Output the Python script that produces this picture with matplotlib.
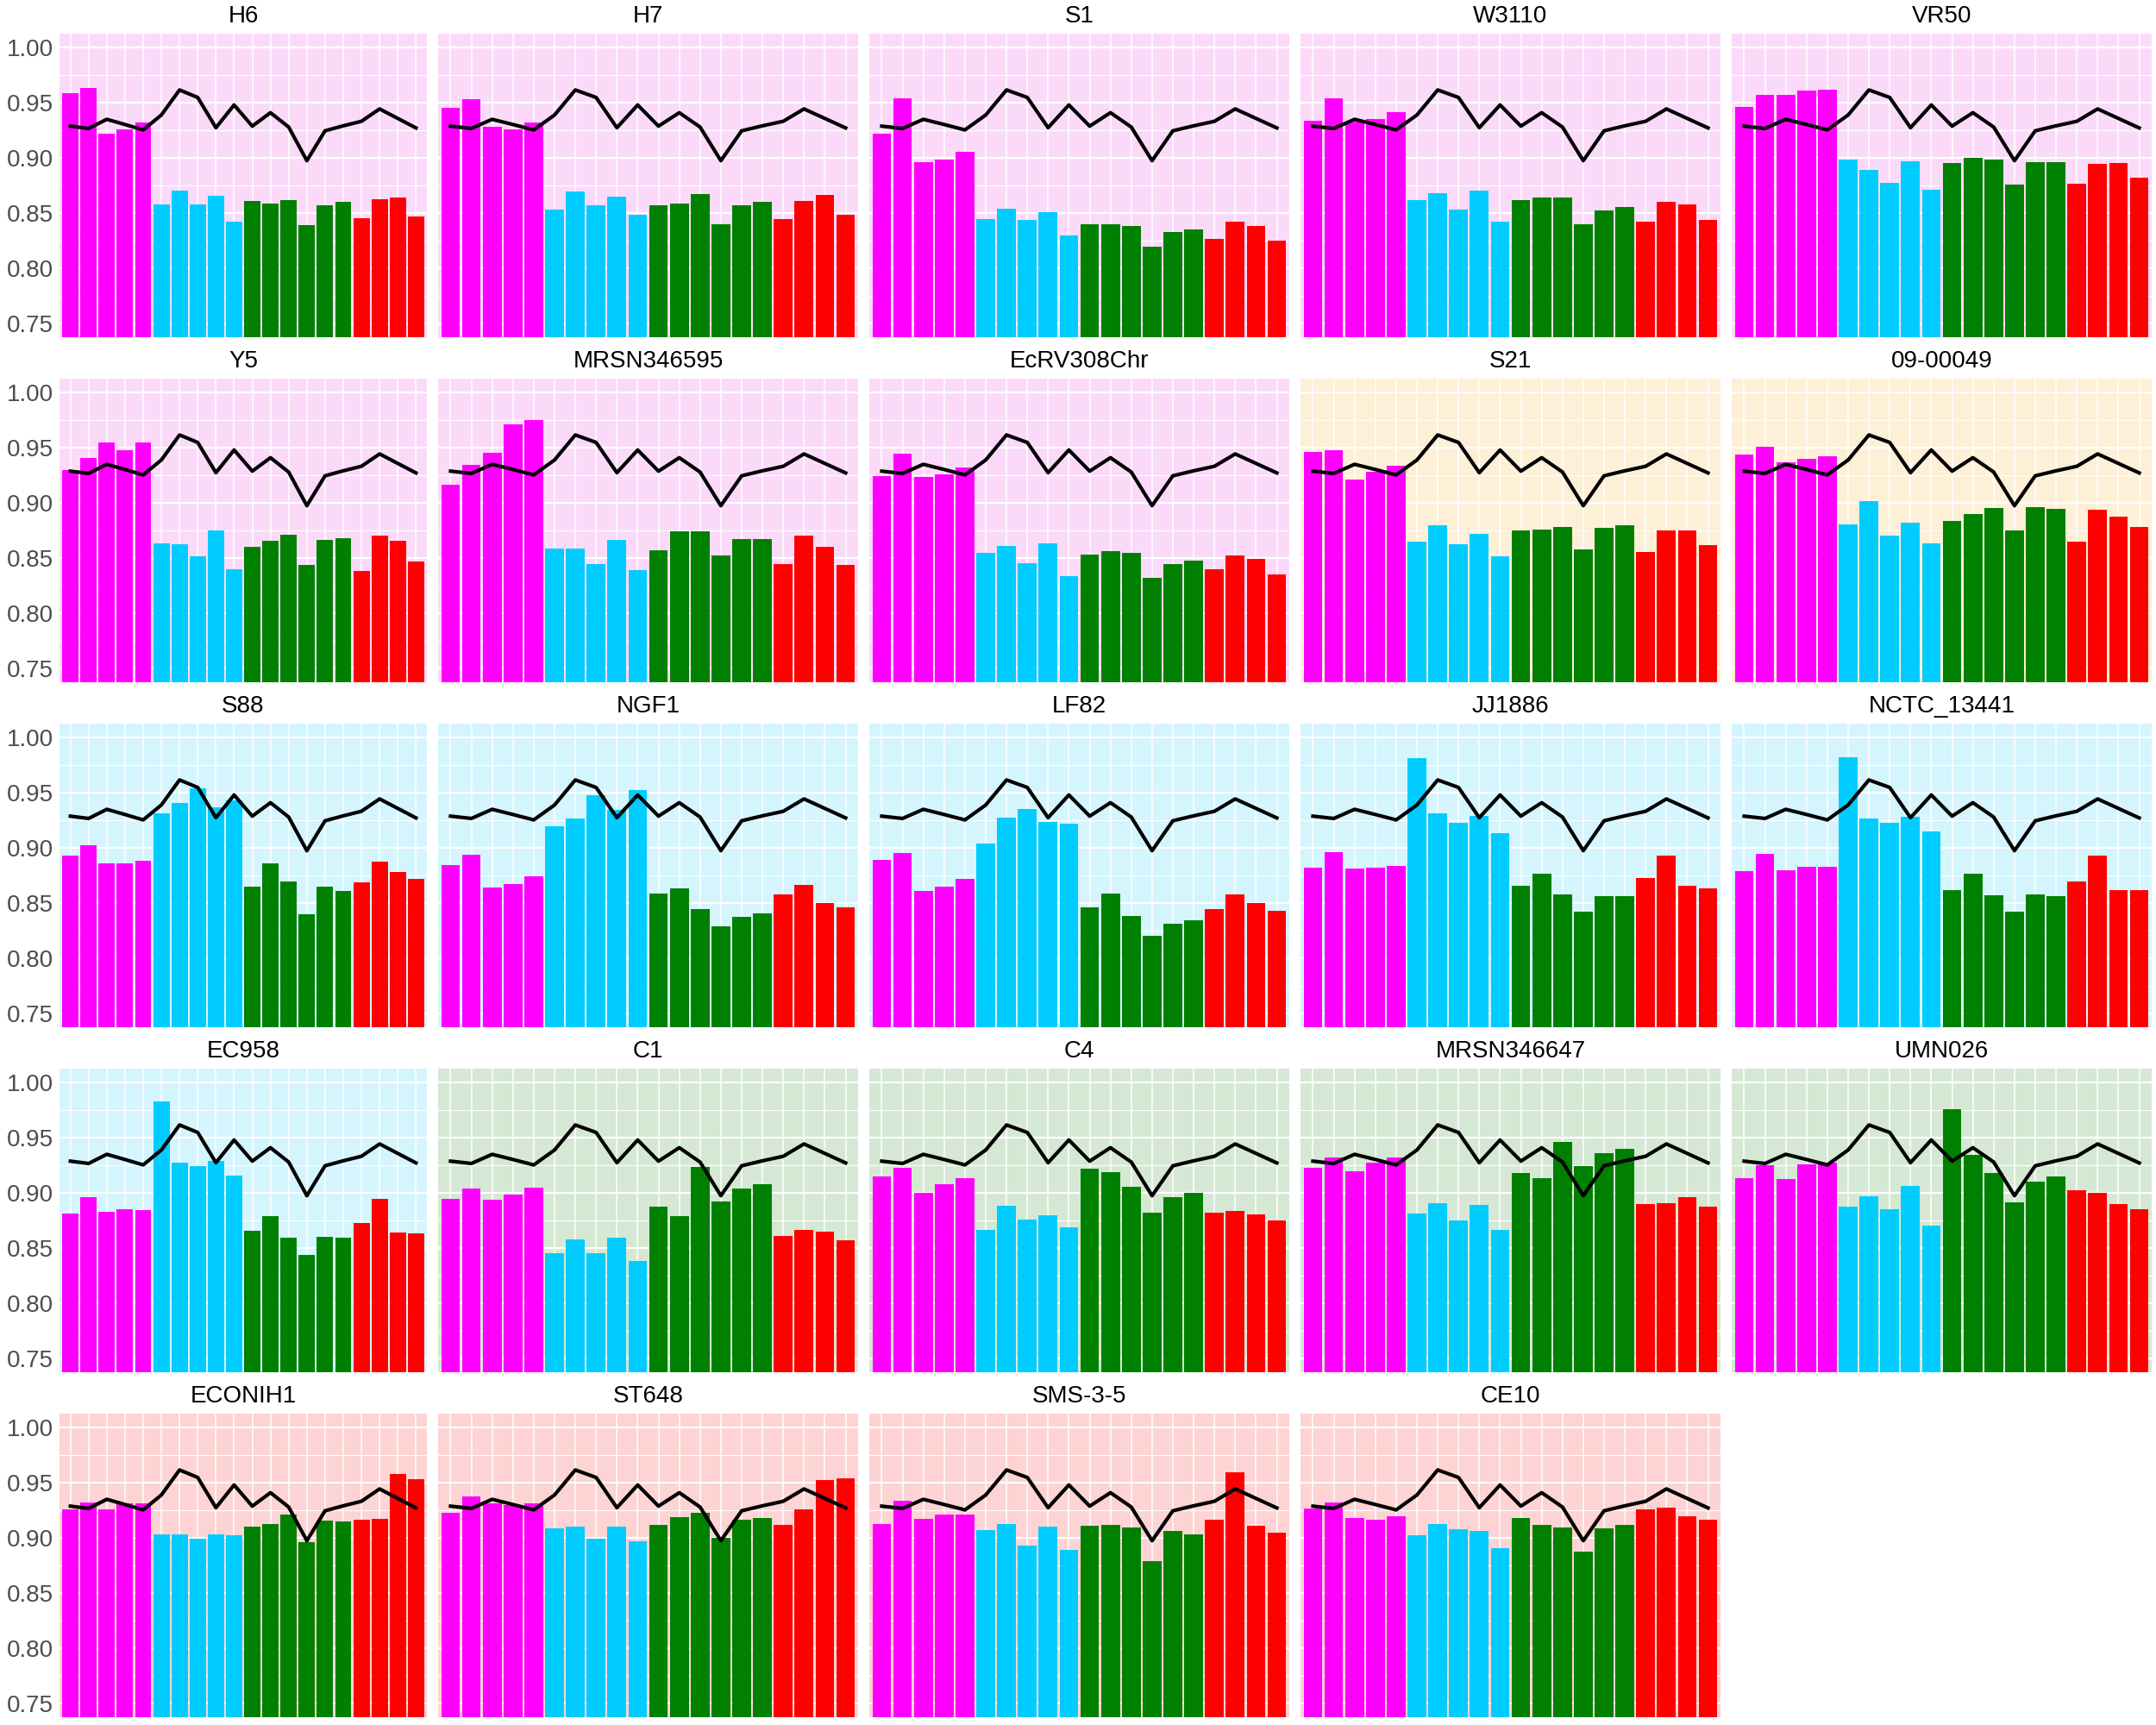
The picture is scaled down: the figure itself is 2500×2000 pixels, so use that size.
import matplotlib
matplotlib.use("Agg")
import matplotlib.pyplot as plt
from matplotlib.ticker import MultipleLocator, FormatStrFormatter

plt.rcParams['font.family'] = ['Liberation Sans', 'DejaVu Sans']

# bar groups: 5 magenta, 5 cyan, 6 green, 4 red
group_colours = ['#FF00FF', '#00CCFF', '#008000', '#FF0000']
group_sizes = [5, 5, 6, 4]

# black reference line (same in every panel)
reference_line = [0.9287, 0.9266, 0.9349, 0.9302, 0.9253, 0.9388, 0.9615, 0.9547, 0.9273, 0.9479,
                  0.9287, 0.9409, 0.9279, 0.8974, 0.9245, 0.9290, 0.9331, 0.9443, 0.9357, 0.9271]

vals_H6 = [0.9586, 0.9633, 0.9219, 0.9258, 0.9318, 0.8578, 0.8703, 0.8578, 0.8656, 0.8422,
           0.8609, 0.8586, 0.8617, 0.8391, 0.8570, 0.8602, 0.8453, 0.8625, 0.8641, 0.8469]
vals_H7 = [0.9453, 0.9531, 0.9281, 0.9258, 0.9318, 0.8531, 0.8695, 0.8570, 0.8648, 0.8484,
           0.8570, 0.8586, 0.8672, 0.8398, 0.8570, 0.8602, 0.8445, 0.8609, 0.8664, 0.8484]
vals_S1 = [0.9219, 0.9539, 0.8961, 0.8984, 0.9055, 0.8445, 0.8539, 0.8438, 0.8508, 0.8297,
           0.8398, 0.8398, 0.8383, 0.8195, 0.8328, 0.8352, 0.8266, 0.8422, 0.8383, 0.8250]
vals_W3110 = [0.9336, 0.9539, 0.9330, 0.9352, 0.9414, 0.8617, 0.8680, 0.8531, 0.8703, 0.8422,
              0.8617, 0.8641, 0.8641, 0.8398, 0.8523, 0.8555, 0.8422, 0.8602, 0.8578, 0.8438]
vals_VR50 = [0.9461, 0.9569, 0.9569, 0.9607, 0.9615, 0.8982, 0.8890, 0.8771, 0.8967, 0.8710,
             0.8951, 0.8997, 0.8982, 0.8756, 0.8959, 0.8959, 0.8763, 0.8944, 0.8951, 0.8821]
vals_Y5 = [0.9297, 0.9406, 0.9547, 0.9477, 0.9547, 0.8633, 0.8625, 0.8516, 0.8750, 0.8398,
           0.8602, 0.8656, 0.8711, 0.8438, 0.8664, 0.8680, 0.8383, 0.8703, 0.8656, 0.8469]
vals_MRSN346595 = [0.9164, 0.9344, 0.9453, 0.9711, 0.9750, 0.8586, 0.8586, 0.8445, 0.8664, 0.8391,
                   0.8570, 0.8742, 0.8742, 0.8523, 0.8672, 0.8672, 0.8445, 0.8703, 0.8602, 0.8438]
vals_EcRV308Chr = [0.9242, 0.9445, 0.9234, 0.9258, 0.9320, 0.8547, 0.8609, 0.8453, 0.8633, 0.8336,
                   0.8531, 0.8563, 0.8547, 0.8320, 0.8445, 0.8477, 0.8398, 0.8523, 0.8492, 0.8352]
vals_S21 = [0.9461, 0.9477, 0.9211, 0.9281, 0.9336, 0.8648, 0.8797, 0.8625, 0.8719, 0.8516,
            0.8750, 0.8758, 0.8781, 0.8578, 0.8773, 0.8797, 0.8555, 0.8750, 0.8750, 0.8617]
vals_09_00049 = [0.9438, 0.9507, 0.9369, 0.9400, 0.9423, 0.8806, 0.9016, 0.8702, 0.8821, 0.8633,
                 0.8836, 0.8898, 0.8955, 0.8752, 0.8963, 0.8948, 0.8648, 0.8940, 0.8875, 0.8783]
vals_S88 = [0.8930, 0.9023, 0.8859, 0.8859, 0.8883, 0.9313, 0.9406, 0.9539, 0.9367, 0.9430,
            0.8648, 0.8859, 0.8695, 0.8398, 0.8648, 0.8609, 0.8688, 0.8875, 0.8781, 0.8719]
vals_NGF1 = [0.8844, 0.8938, 0.8641, 0.8672, 0.8742, 0.9195, 0.9266, 0.9477, 0.9344, 0.9523,
             0.8586, 0.8633, 0.8445, 0.8289, 0.8375, 0.8406, 0.8578, 0.8664, 0.8500, 0.8461]
vals_LF82 = [0.8891, 0.8953, 0.8609, 0.8648, 0.8719, 0.9039, 0.9273, 0.9352, 0.9234, 0.9219,
             0.8461, 0.8586, 0.8383, 0.8203, 0.8313, 0.8344, 0.8445, 0.8578, 0.8500, 0.8430]
vals_JJ1886 = [0.8820, 0.8961, 0.8813, 0.8820, 0.8836, 0.9813, 0.9313, 0.9227, 0.9289, 0.9133,
               0.8656, 0.8766, 0.8578, 0.8422, 0.8563, 0.8563, 0.8727, 0.8930, 0.8656, 0.8633]
vals_NCTC_13441 = [0.8790, 0.8943, 0.8798, 0.8829, 0.8829, 0.9818, 0.9266, 0.9224, 0.9281, 0.9147,
                   0.8617, 0.8763, 0.8568, 0.8422, 0.8575, 0.8560, 0.8694, 0.8928, 0.8617, 0.8617]
vals_EC958 = [0.8813, 0.8961, 0.8828, 0.8852, 0.8844, 0.9828, 0.9273, 0.9242, 0.9289, 0.9156,
              0.8656, 0.8789, 0.8594, 0.8438, 0.8602, 0.8594, 0.8727, 0.8945, 0.8641, 0.8633]
vals_C1 = [0.8945, 0.9039, 0.8938, 0.8984, 0.9047, 0.8453, 0.8578, 0.8453, 0.8594, 0.8383,
           0.8875, 0.8789, 0.9234, 0.8922, 0.9039, 0.9078, 0.8609, 0.8664, 0.8648, 0.8570]
vals_C4 = [0.9148, 0.9227, 0.9000, 0.9078, 0.9133, 0.8664, 0.8883, 0.8758, 0.8797, 0.8688,
           0.9219, 0.9188, 0.9055, 0.8820, 0.8961, 0.9000, 0.8820, 0.8836, 0.8805, 0.8750]
vals_MRSN346647 = [0.9227, 0.9320, 0.9195, 0.9273, 0.9320, 0.8813, 0.8906, 0.8750, 0.8891, 0.8664,
                   0.9180, 0.9133, 0.9461, 0.9242, 0.9359, 0.9398, 0.8898, 0.8906, 0.8961, 0.8875]
vals_UMN026 = [0.9131, 0.9250, 0.9124, 0.9258, 0.9273, 0.8875, 0.8970, 0.8851, 0.9062, 0.8702,
               0.9757, 0.9342, 0.9181, 0.8913, 0.9101, 0.9151, 0.9024, 0.9001, 0.8898, 0.8851]
vals_ECONIH1 = [0.9258, 0.9320, 0.9258, 0.9313, 0.9313, 0.9031, 0.9031, 0.8992, 0.9031, 0.9023,
                0.9102, 0.9125, 0.9211, 0.8961, 0.9156, 0.9148, 0.9164, 0.9172, 0.9578, 0.9531]
vals_ST648 = [0.9230, 0.9375, 0.9310, 0.9300, 0.9310, 0.9086, 0.9102, 0.8992, 0.9102, 0.8969,
              0.9117, 0.9188, 0.9227, 0.9000, 0.9164, 0.9180, 0.9117, 0.9258, 0.9523, 0.9539]
vals_SMS_3_5 = [0.9125, 0.9336, 0.9172, 0.9211, 0.9211, 0.9070, 0.9125, 0.8930, 0.9102, 0.8891,
                0.9109, 0.9117, 0.9094, 0.8789, 0.9063, 0.9031, 0.9164, 0.9594, 0.9109, 0.9047]
vals_CE10 = [0.9266, 0.9320, 0.9180, 0.9164, 0.9195, 0.9023, 0.9125, 0.9078, 0.9063, 0.8906,
             0.9180, 0.9117, 0.9094, 0.8875, 0.9086, 0.9117, 0.9258, 0.9273, 0.9195, 0.9164]

strains = ["H6", "H7", "S1", "W3110", "VR50",
           "Y5", "MRSN346595", "EcRV308Chr", "S21", "09-00049",
           "S88", "NGF1", "LF82", "JJ1886", "NCTC_13441",
           "EC958", "C1", "C4", "MRSN346647", "UMN026",
           "ECONIH1", "ST648", "SMS-3-5", "CE10"]
strain_values = [vals_H6, vals_H7, vals_S1, vals_W3110, vals_VR50,
                 vals_Y5, vals_MRSN346595, vals_EcRV308Chr, vals_S21, vals_09_00049,
                 vals_S88, vals_NGF1, vals_LF82, vals_JJ1886, vals_NCTC_13441,
                 vals_EC958, vals_C1, vals_C4, vals_MRSN346647, vals_UMN026,
                 vals_ECONIH1, vals_ST648, vals_SMS_3_5, vals_CE10]
strain_group = ["pink"] * 8 + ["orange"] * 2 + ["cyan"] * 6 + ["green"] * 4 + ["red"] * 4

panel_bg = {"pink": "#FBDAF9", "orange": "#FEEFD7", "cyan": "#D4F5FD",
            "green": "#D5E8D4", "red": "#FDD3D3"}

bar_colours = []
for col, n in zip(group_colours, group_sizes):
    bar_colours += [col] * n
xpos = list(range(1, len(bar_colours) + 1))

W, H = 2500, 2000
fig = plt.figure(figsize=(W / 100, H / 100), dpi=100)

for i, (name, vals) in enumerate(zip(strains, strain_values)):
    r, c = divmod(i, 5)
    left = 69 if c == 0 else 500 * c + 8
    right = 500 * c + 495
    top = 400 * r + 39
    bottom = 400 * r + 391
    ax = fig.add_axes([left / W, 1 - bottom / H, (right - left) / W, (bottom - top) / H])
    ax.set_facecolor(panel_bg[strain_group[i]])
    ax.set_axisbelow(True)

    ax.bar(xpos, vals, width=0.9, color=bar_colours, linewidth=0, zorder=2)
    ax.plot(xpos, reference_line, color='black', lw=3.0, zorder=3)

    ax.set_xlim(0.4, 20.6)
    ax.set_ylim(0.7375, 1.0125)
    ax.set_xticks(xpos)
    ax.yaxis.set_major_locator(MultipleLocator(0.05))
    ax.yaxis.set_minor_locator(MultipleLocator(0.025))
    ax.yaxis.set_major_formatter(FormatStrFormatter('%.2f'))
    ax.grid(which='major', axis='y', color='white', lw=1.6)
    ax.grid(which='minor', axis='y', color='white', lw=0.8)
    ax.grid(which='major', axis='x', color='white', lw=1.1)
    for s in ax.spines.values():
        s.set_visible(False)
    ax.tick_params(which='both', length=0, labelbottom=False,
                   labelleft=(c == 0), labelsize=20, labelcolor='#4D4D4D', pad=5)

    fig.text((left + right) / 2 / W, 1 - (400 * r + 19) / H, name,
             ha='center', va='center', fontsize=20, color='black')

fig.savefig('out.png', dpi=100)
